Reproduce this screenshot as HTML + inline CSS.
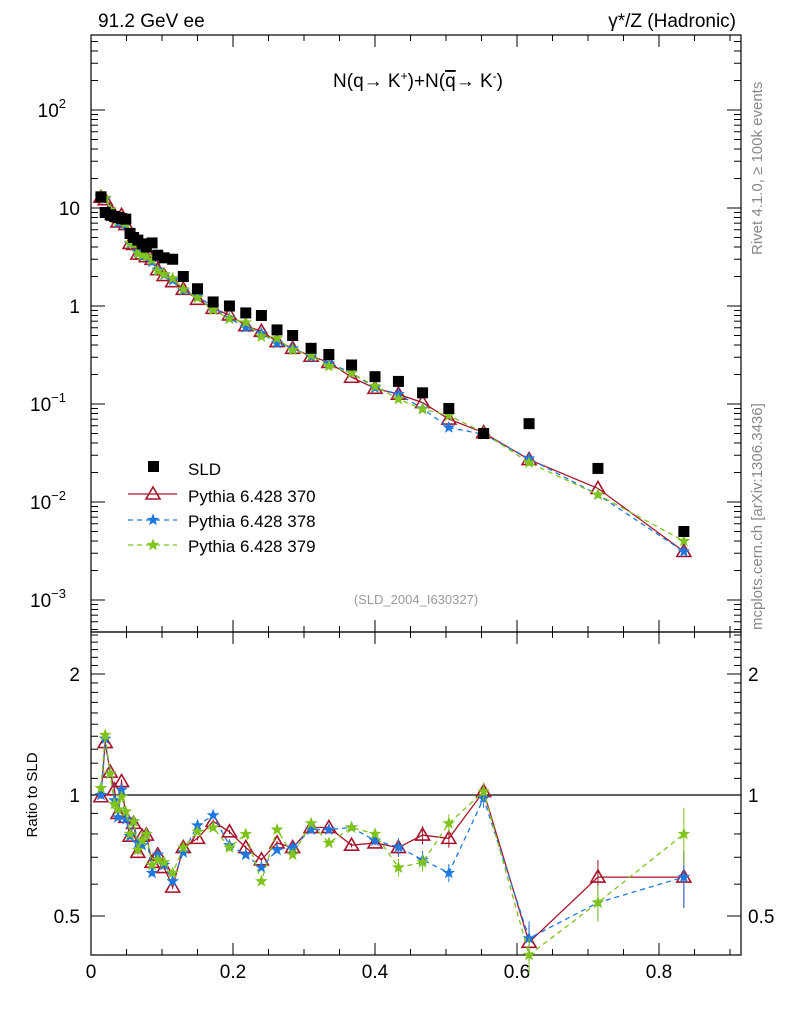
<!DOCTYPE html>
<html><head><meta charset="utf-8">
<style>
body{margin:0;background:#fff;}
svg{display:block;font-family:"Liberation Sans",sans-serif;}
</style></head>
<body>
<svg id="c" width="786" height="1024" viewBox="0 0 786 1024" xmlns="http://www.w3.org/2000/svg">
<text x="98" y="27" font-size="19">91.2 GeV ee</text>
<text x="736" y="27" font-size="19" text-anchor="end">γ*/Z (Hadronic)</text>
<text x="418" y="87" font-size="19" text-anchor="middle">N(q→ K<tspan font-size="12" dy="-7">+</tspan><tspan dy="7">)+N(</tspan><tspan text-decoration="overline">q</tspan>→ K<tspan font-size="12" dy="-7">-</tspan><tspan dy="7">)</tspan></text>
<text transform="translate(762,255) rotate(-90)" font-size="15" fill="#888">Rivet 4.1.0, ≥ 100k events</text>
<text transform="translate(762,630) rotate(-90)" font-size="15" fill="#888">mcplots.cern.ch [arXiv:1306.3436]</text>
<text x="416" y="604" font-size="13" fill="#999" text-anchor="middle">(SLD_2004_I630327)</text>
<text transform="translate(37,795) rotate(-90)" font-size="15" text-anchor="middle">Ratio to SLD</text>
<g id="g"></g>
</svg>
<script>
const xs=[0.014,0.02,0.027,0.033,0.038,0.043,0.049,0.055,0.06,0.066,0.072,0.078,0.086,0.094,0.103,0.115,0.13,0.15,0.172,0.195,0.218,0.24,0.262,0.284,0.31,0.335,0.367,0.4,0.433,0.467,0.504,0.553,0.617,0.714,0.835];
const sld=[13,9,8.5,8.2,8.0,7.8,7.7,5.5,5.0,4.7,4.3,4.0,4.4,3.3,3.1,3.0,2.0,1.5,1.1,1.0,0.85,0.8,0.57,0.5,0.37,0.32,0.25,0.19,0.17,0.13,0.09,0.05,0.063,0.022,0.005];
const r370=[0.99,1.35,1.14,1.03,0.90,1.08,0.88,0.79,0.85,0.72,0.79,0.795,0.68,0.71,0.66,0.59,0.74,0.78,0.86,0.81,0.74,0.69,0.76,0.74,0.83,0.83,0.75,0.76,0.74,0.795,0.78,1.02,0.43,0.625,0.625];
const r378=[1.0,1.38,1.13,0.97,0.88,1.03,0.87,0.79,0.86,0.76,0.75,0.8,0.64,0.71,0.67,0.61,0.72,0.84,0.89,0.75,0.71,0.66,0.73,0.74,0.82,0.82,0.83,0.77,0.742,0.69,0.64,0.98,0.44,0.54,0.625];
const r379=[1.04,1.41,1.13,0.95,0.92,0.99,0.91,0.8,0.86,0.73,0.77,0.8,0.67,0.69,0.68,0.64,0.74,0.81,0.83,0.74,0.80,0.61,0.82,0.71,0.85,0.76,0.83,0.80,0.66,0.68,0.85,1.02,0.40,0.54,0.80];
const xTicks=[0,0.2,0.4,0.6,0.8];
const NS="http://www.w3.org/2000/svg";
const g=document.getElementById('g');
const L=91,R=741,T=35,MB=632,RB=955;
const X=v=>L+v*710;
const YM=v=>110-(Math.log10(v)-2)*98;
const YR=v=>795-Math.log10(v)*402;
function el(t,a,p){const e=document.createElementNS(NS,t);for(const k in a)e.setAttribute(k,a[k]);(p||g).appendChild(e);return e;}
function txt(x,y,s,a){const e=el('text',Object.assign({x:x,y:y,'font-size':19},a||{}));e.textContent=s;return e;}
const f1=el('rect',{x:L,y:T,width:R-L,height:MB-T,fill:'none',stroke:'#000','stroke-width':1.2});


const f2=el('rect',{x:L,y:MB,width:R-L,height:RB-MB,fill:'none',stroke:'#000','stroke-width':1.2});


for(let v=0;v<=0.91;v+=0.05){const px=X(v);const big=Math.abs(v*10-Math.round(v*10))<1e-6&&Math.round(v*10)%2==0;const h=big?12:6;
 el('line',{x1:px,x2:px,y1:RB,y2:RB-h,stroke:'#000'});el('line',{x1:px,x2:px,y1:MB,y2:MB-h,stroke:'#000'});
 el('line',{x1:px,x2:px,y1:T,y2:T+h,stroke:'#000'});el('line',{x1:px,x2:px,y1:MB,y2:MB+h,stroke:'#000'});}
xTicks.forEach(v=>{const t=txt(X(v),978,v===0?'0':String(v),{'text-anchor':'middle'});
 
 });
for(let d=-4;d<=2;d++){for(let m=1;m<10;m++){const v=m*Math.pow(10,d);const py=YM(v);if(py<T||py>MB)continue;const h=m===1?14:7;
 el('line',{x1:L,x2:L+h,y1:py,y2:py,stroke:'#000'});el('line',{x1:R,x2:R-h,y1:py,y2:py,stroke:'#000'});}}
const ml=[[100,'10','2'],[10,'10',null],[1,'1',null],[0.1,'10','−1'],[0.01,'10','−2'],[0.001,'10','−3']];
ml.forEach(([v,b,e])=>{const t=el('text',{x:e?66:80,y:YM(v)+7,'font-size':19,'text-anchor':'end'});t.textContent=b;
 
 
 if(e){const s=el('tspan',{'font-size':13,dy:-9});s.textContent=e;t.appendChild(s);} else t.setAttribute('x',80);});
for(let v=0.4;v<=2.55;v+=0.1){const py=YR(v);if(py<MB||py>RB)continue;const big=[0.5,1,2].some(q=>Math.abs(q-v)<1e-6);const h=big?14:7;
 el('line',{x1:L,x2:L+h,y1:py,y2:py,stroke:'#000'});el('line',{x1:R,x2:R-h,y1:py,y2:py,stroke:'#000'});}
[[2,'2'],[1,'1'],[0.5,'0.5']].forEach(([v,s])=>{const a=txt(80,YR(v)+7,s,{'text-anchor':'end'});
 
 
 const b=txt(748,YR(v)+7,s);
 
 });
el('line',{x1:L,x2:R,y1:YR(1),y2:YR(1),stroke:'#000','stroke-width':1.2});
function tri(x,y,c,p){return el('path',{d:`M${x},${y-7}L${x+7},${y+5}L${x-7},${y+5}Z`,fill:'none',stroke:c,'stroke-width':1.6},p);}
function star(x,y,c,p){let d='';for(let i=0;i<10;i++){const r=i%2?2.3:5.5;const a=-Math.PI/2+i*Math.PI/5;d+=(i?'L':'M')+(x+r*Math.cos(a)).toFixed(1)+','+(y+r*Math.sin(a)).toFixed(1);}return el('path',{d:d+'Z',fill:c,stroke:c,'stroke-width':0.8},p);}
const series=[{r:r370,c:'#a5142a',dash:null,m:tri,n:'pythia-370'},{r:r378,c:'#1f78e0',dash:'5,4',m:star,n:'pythia-378'},{r:r379,c:'#7fc31c',dash:'5,4',m:star,n:'pythia-379'}];
series.forEach(s=>{
 const gm=el('g',{});
 
 
 const pm=xs.map((x,i)=>X(x)+','+YM(sld[i]*s.r[i]).toFixed(1)).join(' ');
 const pr=xs.map((x,i)=>X(x)+','+YR(s.r[i]).toFixed(1)).join(' ');
 const a={fill:'none',stroke:s.c,'stroke-width':1.3};if(s.dash)a['stroke-dasharray']=s.dash;
 el('polyline',Object.assign({points:pm},a),gm);el('polyline',Object.assign({points:pr},a),gm);
 xs.forEach((x,i)=>{const e=0.012+(x>0.8?0.15:x>0.6?0.09:x>0.4?0.04:0);
  el('line',{x1:X(x),x2:X(x),y1:YR(s.r[i]*(1+e)),y2:YR(s.r[i]*(1-e)),stroke:s.c},gm);
  s.m(X(x),YM(sld[i]*s.r[i]),s.c,gm);s.m(X(x),YR(s.r[i]),s.c,gm);});
});
const gd=el('g',{});


xs.forEach((x,i)=>{el('rect',{x:X(x)-5.5,y:YM(sld[i])-5.5,width:11,height:11,fill:'#000'},gd);});
const lg=el('g',{});


el('rect',{x:148,y:461,width:11,height:11,fill:'#000'},lg);
const lt=[['SLD',475],['Pythia 6.428 370',502],['Pythia 6.428 378',527],['Pythia 6.428 379',552]];
lt.forEach(([s,y])=>{const t=txt(188,y,s,{'font-size':17});lg.appendChild(t);});
el('line',{x1:128,x2:177,y1:494,y2:494,stroke:'#a5142a','stroke-width':1.3},lg);tri(153,494,'#a5142a',lg);
el('line',{x1:128,x2:177,y1:520,y2:520,stroke:'#1f78e0','stroke-width':1.3,'stroke-dasharray':'5,4'},lg);star(153,520,'#1f78e0',lg);
el('line',{x1:128,x2:177,y1:545,y2:545,stroke:'#7fc31c','stroke-width':1.3,'stroke-dasharray':'5,4'},lg);star(153,545,'#7fc31c',lg);
</script>
</body></html>
